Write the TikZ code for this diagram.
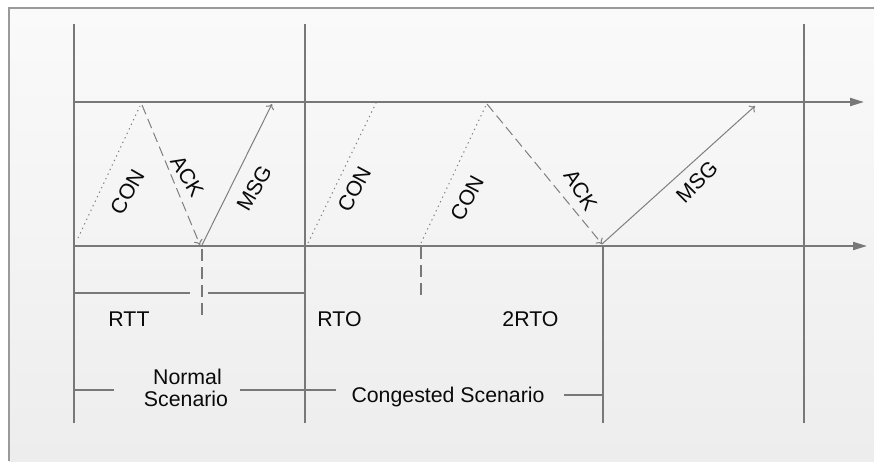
\documentclass[tikz,border=0pt]{standalone}
\usepackage{fontspec}
\setmainfont{Liberation Sans}
\usetikzlibrary{arrows.meta}
\definecolor{axisgray}{HTML}{787878}
\definecolor{msggray}{HTML}{7E7E7E}
\definecolor{framegray}{HTML}{9A9A9A}
\definecolor{bgtop}{HTML}{FAFAFA}
\definecolor{bgbottom}{HTML}{EDEDED}
\definecolor{ink}{HTML}{0A0A0A}
\tikzset{
  axis/.style={draw=axisgray, line width=2pt, -{Triangle[length=14pt,width=8pt]}},
  timeline/.style={draw=axisgray, line width=2.2pt},
  conmsg/.style={draw=msggray, line width=1pt, dash pattern=on 1.3pt off 3.7pt},
  ackmsg/.style={draw=msggray, line width=1pt, dash pattern=on 10pt off 5pt, -{To[length=5pt,width=9pt]}},
  datamsg/.style={draw=msggray, line width=1pt, -{To[length=5pt,width=9pt]}},
  marker/.style={draw=axisgray, line width=1.6pt, dash pattern=on 12pt off 6pt},
  span/.style={draw=axisgray, line width=1.8pt},
  lbl/.style={text=ink, font=\fontsize{21.3pt}{24pt}\selectfont, inner sep=0pt},
  msglbl/.style={lbl, text height=15.2pt, text depth=0pt, anchor=center},
}
\begin{document}
\begin{tikzpicture}[x=1pt,y=-1pt]
  \useasboundingbox (0,0) rectangle (874,461);
  % paper and frame
  \fill[white] (0,0) rectangle (874,461);
  \shade[top color=bgtop, bottom color=bgbottom] (9,8) rectangle (874,461);
  \draw[framegray, line width=2pt] (9,461) -- (9,8) -- (874,8);

  % time marks
  \coordinate (v1t) at (74,24);   \coordinate (v1b) at (74,423);
  \coordinate (v2t) at (305,24);  \coordinate (v2b) at (305,423);
  \coordinate (v3t) at (603,246); \coordinate (v3b) at (603,423);
  \coordinate (v4t) at (804,24);  \coordinate (v4b) at (804,423);
  \draw[timeline] (v1t) -- (v1b);
  \draw[timeline] (v2t) -- (v2b);
  \draw[timeline] (v3t) -- (v3b);
  \draw[timeline] (v4t) -- (v4b);

  % server and client axes
  \coordinate (srvL) at (74,102);  \coordinate (srvR) at (864,102);
  \coordinate (cliL) at (74,246);  \coordinate (cliR) at (867,246);
  \draw[axis] (srvL) -- (srvR);
  \draw[axis] (cliL) -- (cliR);

  % normal exchange
  \coordinate (con1a) at (78,238);  \coordinate (con1b) at (140,106);
  \coordinate (ack1a) at (142,105); \coordinate (ack1b) at (200,245);
  \coordinate (msg1a) at (202,245); \coordinate (msg1b) at (272,104);
  \draw[conmsg] (con1a) -- (con1b);
  \draw[ackmsg] (ack1a) -- (ack1b);
  \draw[datamsg] (msg1a) -- (msg1b);
  \coordinate (rttT) at (202,249); \coordinate (rttB) at (202,318);
  \draw[marker] (rttT) -- (rttB);

  % congested exchange
  \coordinate (con2a) at (308,243); \coordinate (con2b) at (376,103);
  \coordinate (con3a) at (421,243); \coordinate (con3b) at (487,103);
  \coordinate (ack2a) at (487,104); \coordinate (ack2b) at (602,244);
  \coordinate (msg2a) at (602,244); \coordinate (msg2b) at (755,106);
  \draw[conmsg] (con2a) -- (con2b);
  \draw[conmsg] (con3a) -- (con3b);
  \draw[ackmsg] (ack2a) -- (ack2b);
  \draw[datamsg] (msg2a) -- (msg2b);
  \coordinate (rtoT) at (421,247); \coordinate (rtoB) at (421,297);
  \draw[marker] (rtoT) -- (rtoB);

  % message labels
  \node[msglbl, rotate=60]  (lcon1) at (127,192)   {CON};
  \node[msglbl, rotate=-59] (lack1) at (187.5,176) {ACK};
  \node[msglbl, rotate=60]  (lmsg1) at (254,188)   {MSG};
  \node[msglbl, rotate=62]  (lcon2) at (354,189)   {CON};
  \node[msglbl, rotate=62]  (lcon3) at (466.7,198) {CON};
  \node[msglbl, rotate=-58] (lack2) at (580.8,190) {ACK};
  \node[msglbl, rotate=45]  (lmsg2) at (696.7,182) {MSG};

  % round trip span
  \coordinate (rttL) at (74,293);  \coordinate (rttGapL) at (190,293);
  \coordinate (rttGapR) at (208,293); \coordinate (rttR) at (305,293);
  \draw[span] (rttL) -- (rttGapL);
  \draw[span] (rttGapR) -- (rttR);

  % timing labels
  \node[lbl, anchor=base] (rtt)  at (129,326)   {RTT};
  \node[lbl, anchor=base] (rto)  at (339.5,326) {RTO};
  \node[lbl, anchor=base] (rto2) at (530.5,326) {2RTO};

  % scenario spans
  \node[lbl, anchor=base] (normal)   at (187.5,384) {Normal};
  \node[lbl, anchor=base] (scenario) at (186,406.5) {Scenario};
  \node[lbl, anchor=base] (cong)     at (448,402.5) {Congested Scenario};
  \coordinate (nsL) at (74,390);   \coordinate (nsA) at (114,390);
  \coordinate (nsB) at (240,390);  \coordinate (nsC) at (336,390);
  \coordinate (csA) at (564,395);  \coordinate (csB) at (603,395);
  \draw[span] (nsL) -- (nsA);
  \draw[span] (nsB) -- (nsC);
  \draw[span] (csA) -- (csB);
\end{tikzpicture}
\end{document}
